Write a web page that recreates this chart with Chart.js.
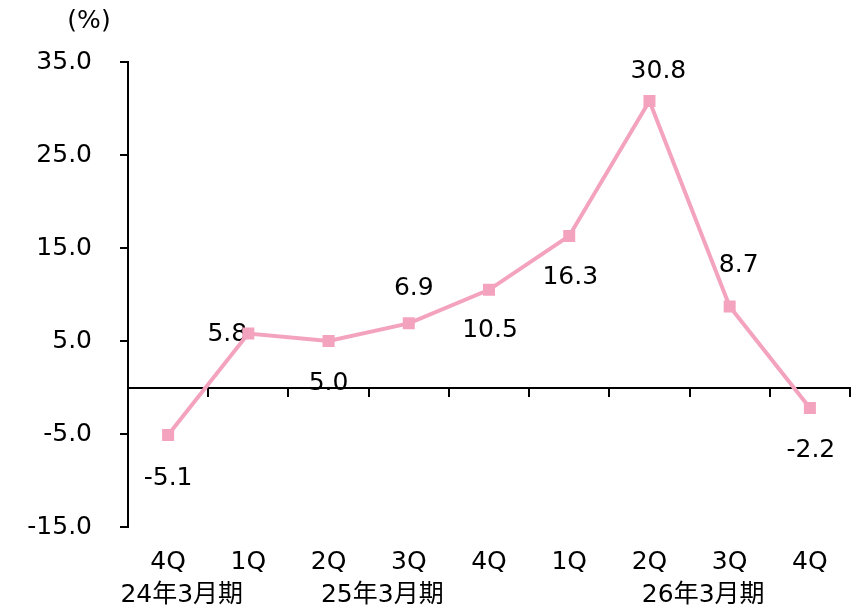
<!DOCTYPE html>
<html>
<head>
<meta charset="utf-8">
<script src="https://cdn.jsdelivr.net/npm/chart.js@4/dist/chart.umd.min.js"></script>
<style>
  html, body { margin: 0; padding: 0; background: #fff; }
  #wrap { width: 861px; height: 610px; }
</style>
</head>
<body>
<div id="wrap"><canvas id="chart" width="861" height="610"></canvas></div>
<script>
// quarters and growth rate (%)
const quarters = ['4Q', '1Q', '2Q', '3Q', '4Q', '1Q', '2Q', '3Q', '4Q'];
const growth = [-5.1, 5.8, 5.0, 6.9, 10.5, 16.3, 30.8, 8.7, -2.2];
const yTicks = [-15, -5, 5, 15, 25, 35];
const fiscalYears = ['24年3月期', '25年3月期', '26年3月期'];
const fiscalYearAt = [0.17, 2.67, 6.67]; // category index under which each year sits

// where each value label sits relative to its point
const labelOffsets = [[0, 44], [-21, 1], [0, 42], [5, -35], [1, 41], [1, 42], [9, -30], [9, -41], [1, 43]];

const FONT = "'DejaVu Sans', 'Noto Sans CJK JP', sans-serif";
const FSIZE = 25;
const PINK = '#F4A3BE';

const extraText = {
    id: 'extraText',
    beforeDatasetsDraw(chart) {
        const ctx = chart.ctx;
        const meta = chart.getDatasetMeta(0);
        ctx.save();
        ctx.font = FSIZE + 'px ' + FONT;
        ctx.fillStyle = '#000';
        ctx.textAlign = 'center';
        ctx.textBaseline = 'middle';
        meta.data.forEach(function (pt, i) {
            ctx.fillText(growth[i].toFixed(1), pt.x + labelOffsets[i][0], pt.y + labelOffsets[i][1]);
        });
        ctx.restore();
    },
    afterDraw(chart) {
        const ctx = chart.ctx;
        const x = chart.scales.x;
        ctx.save();
        ctx.font = FSIZE + 'px ' + FONT;
        ctx.fillStyle = '#000';
        ctx.textAlign = 'center';
        ctx.textBaseline = 'middle';
        fiscalYears.forEach(function (t, i) {
            const i0 = Math.floor(fiscalYearAt[i]);
            const px = x.getPixelForValue(i0) + (fiscalYearAt[i] - i0) * (x.getPixelForValue(1) - x.getPixelForValue(0));
            ctx.fillText(t, px, 595);
        });
        ctx.fillText('(%)', 89, 21);
        ctx.restore();
    }
};

new Chart(document.getElementById('chart').getContext('2d'), {
    type: 'line',
    data: {
        labels: quarters,
        datasets: [{
            data: growth,
            borderColor: PINK,
            backgroundColor: PINK,
            borderWidth: 4,
            pointStyle: 'rect',
            pointRadius: 8.5,
            pointBorderWidth: 0,
            pointHoverRadius: 8.5,
            tension: 0
        }]
    },
    options: {
        responsive: false,
        animation: false,
        events: [],
        layout: { padding: { top: 62, right: 11, left: 0, bottom: 0 } },
        plugins: {
            legend: { display: false },
            tooltip: { enabled: false }
        },
        scales: {
            x: {
                offset: true,
                grid: { display: false },
                border: { display: false },
                ticks: { color: '#000', font: { family: FONT, size: FSIZE }, padding: 12, maxRotation: 0 },
                afterFit(s) { s.height = 83; }
            },
            x2: {
                type: 'category',
                labels: quarters,
                offset: true,
                position: { y: 0 },
                grid: { offset: true, drawOnChartArea: false, drawTicks: true, tickLength: 8, color: '#000', lineWidth: 2 },
                border: { display: true, color: '#000', width: 2 },
                ticks: { display: false }
            },
            y: {
                min: -15,
                max: 35,
                afterBuildTicks(s) { s.ticks = yTicks.map(v => ({ value: v })); },
                grid: { drawOnChartArea: false, tickLength: 8, color: '#000', lineWidth: 2 },
                border: { display: true, color: '#000', width: 2 },
                ticks: {
                    color: '#000',
                    font: { family: FONT, size: FSIZE },
                    padding: 28,
                    callback: v => Number(v).toFixed(1)
                },
                afterFit(s) { s.width = 128; }
            }
        }
    },
    plugins: [extraText]
});
</script>
</body>
</html>
